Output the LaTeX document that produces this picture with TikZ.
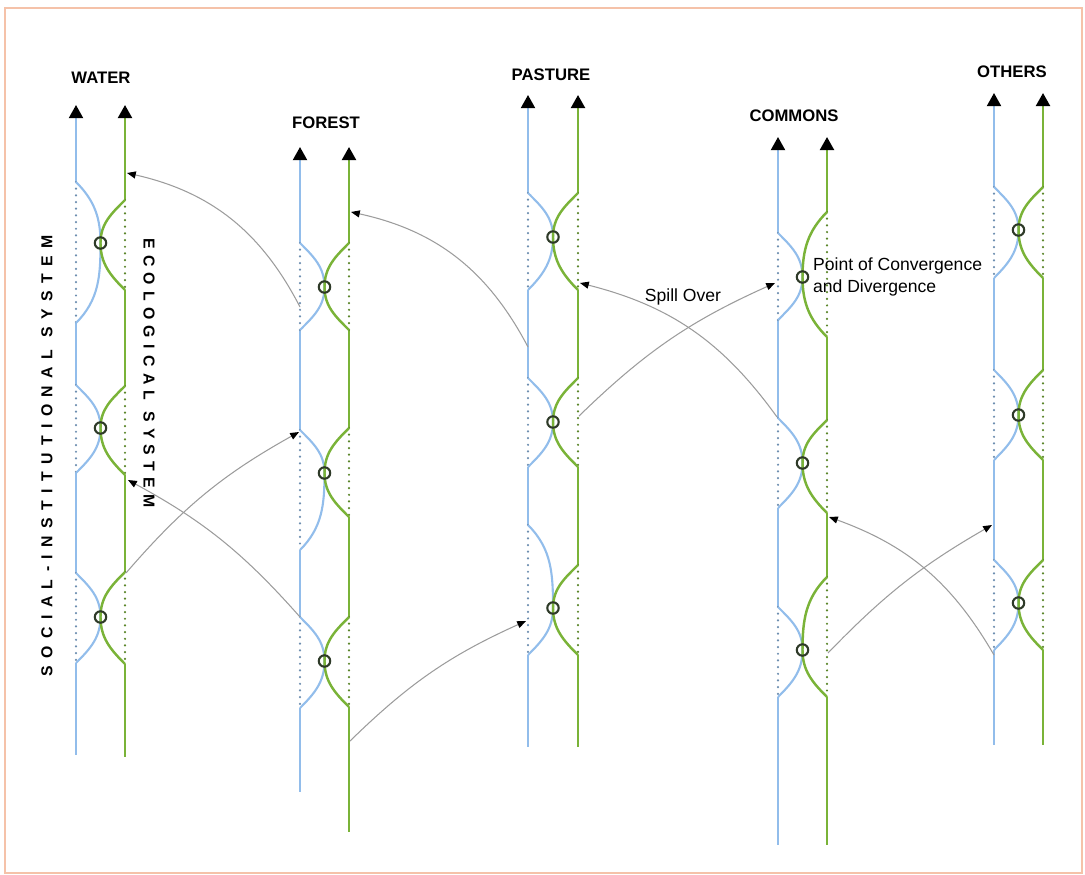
\documentclass[tikz,border=0pt]{standalone}
\usepackage{fontspec}
\setmainfont{Liberation Sans}
\usetikzlibrary{arrows.meta,positioning}
\definecolor{socblue}{HTML}{92BDEB}
\definecolor{ecogreen}{HTML}{7AB338}
\definecolor{arcgrey}{HTML}{9C9C9C}
\definecolor{framecol}{HTML}{F5C2A9}
\definecolor{ringcol}{HTML}{2E3A28}

% one meeting of the two systems: name, x blue, x green, blue top, blue bottom, green top, green bottom, y meet
\newcommand{\crossing}[8]{%
  \pgfmathsetmacro{\xm}{(#2+#3)/2}
  \draw[socdot] (#2,#4) -- (#2,#5);
  \draw[ecodot] (#3,#6) -- (#3,#7);
  \draw[soc] (#2,#4) to[out=-45,in=90] (\xm,#8) to[out=-90,in=45] (#2,#5);
  \draw[eco] (#3,#6) to[out=-135,in=90] (\xm,#8) to[out=-90,in=135] (#3,#7);
  \node[meet] (#1) at (\xm,#8) {};
}

\begin{document}
\begin{tikzpicture}[x=0.02cm, y=-0.02cm,
        soc/.style={draw=socblue, line width=1.2pt},
        eco/.style={draw=ecogreen, line width=1.4pt},
        socdot/.style={draw=socblue!75!black, line width=1.4pt, line cap=round, dash pattern=on 0pt off 3.8pt},
        ecodot/.style={draw=ecogreen!75!black, line width=1.4pt, line cap=round, dash pattern=on 0pt off 3.8pt},
        tipup/.style={-{Triangle[length=7.5pt,width=8pt,color=black]}},
        meet/.style={circle, draw=ringcol, line width=1.2pt, minimum size=6.5pt, inner sep=0pt},
        spill/.style={draw=arcgrey, line width=0.6pt, -{Triangle[length=5pt,width=4pt,color=black]}},
        title/.style={font=\bfseries\fontsize{9.5}{11}\selectfont},
        side/.style={font=\bfseries\fontsize{9}{11}\selectfont\addfontfeature{LetterSpace=#1}},
        note/.style={font=\fontsize{10}{12.5}\selectfont, align=left, inner sep=1pt}
    ]
    \useasboundingbox (0,0) rectangle (1085,875);
    \draw[draw=framecol, line width=1.2pt] (5,8) rectangle (1082,873);

    % Water
    \draw[soc,tipup] (76,182) -- (76,105);
    \draw[soc] (76,323) -- (76,385) (76,473) -- (76,573) (76,663) -- (76,755);
    \draw[eco,tipup] (125,200) -- (125,105);
    \draw[eco] (125,290) -- (125,386) (125,475) -- (125,572) (125,664) -- (125,757);
    \crossing{W1}{76}{125}{182}{323}{200}{290}{243}
    \crossing{W2}{76}{125}{385}{473}{386}{475}{428}
    \crossing{W3}{76}{125}{573}{663}{572}{664}{617}
    \node[title] (water) at (101,78) {WATER};

    % Forest
    \draw[soc,tipup] (300,243) -- (300,147);
    \draw[soc] (300,330) -- (300,430) (300,550) -- (300,617) (300,708) -- (300,792);
    \draw[eco,tipup] (349,243) -- (349,147);
    \draw[eco] (349,330) -- (349,428) (349,517) -- (349,617) (349,707) -- (349,832);
    \crossing{F1}{300}{349}{243}{330}{243}{330}{287}
    \crossing{F2}{300}{349}{430}{550}{428}{517}{473}
    \crossing{F3}{300}{349}{617}{708}{617}{707}{661}
    \node[title] (forest) at (326,123) {FOREST};

    % Pasture
    \draw[soc,tipup] (528,193) -- (528,95);
    \draw[soc] (528,290) -- (528,378) (528,467) -- (528,525) (528,655) -- (528,747);
    \draw[eco,tipup] (578,193) -- (578,95);
    \draw[eco] (578,290) -- (578,378) (578,467) -- (578,565) (578,655) -- (578,747);
    \crossing{P1}{528}{578}{193}{290}{193}{290}{237}
    \crossing{P2}{528}{578}{378}{467}{378}{467}{422}
    \crossing{P3}{528}{578}{525}{655}{565}{655}{608}
    \node[title] (pasture) at (551,75) {PASTURE};

    % Commons
    \draw[soc,tipup] (778,233) -- (778,137);
    \draw[soc] (778,320) -- (778,418) (778,508) -- (778,607) (778,697) -- (778,845);
    \draw[eco,tipup] (827,212) -- (827,137);
    \draw[eco] (827,337) -- (827,420) (827,513) -- (827,577) (827,697) -- (827,845);
    \crossing{C1}{778}{827}{233}{320}{212}{337}{277}
    \crossing{C2}{778}{827}{418}{508}{420}{513}{463}
    \crossing{C3}{778}{827}{607}{697}{577}{697}{650}
    \node[title] (commons) at (794,116) {COMMONS};

    % Others
    \draw[soc,tipup] (994,187) -- (994,93);
    \draw[soc] (994,278) -- (994,370) (994,460) -- (994,560) (994,650) -- (994,745);
    \draw[eco,tipup] (1043,187) -- (1043,93);
    \draw[eco] (1043,278) -- (1043,370) (1043,460) -- (1043,560) (1043,650) -- (1043,745);
    \crossing{O1}{994}{1043}{187}{278}{187}{278}{230}
    \crossing{O2}{994}{1043}{370}{460}{370}{460}{415}
    \crossing{O3}{994}{1043}{560}{650}{560}{650}{603}
    \node[title] (others) at (1012,72) {OTHERS};

    % System labels
    \node[side=47, rotate=90] (social) at (47,456) {SOCIAL-INSTITUTIONAL SYSTEM};
    \node[side=40, rotate=-90] (ecological) at (149,373) {ECOLOGICAL SYSTEM};

    % Ends of the spill-over arcs
    \coordinate (F-s1) at (300,307);
    \coordinate (W-t1) at (127,173);
    \coordinate (P-s1) at (528,347);
    \coordinate (F-t1) at (351,212);
    \coordinate (W-s2) at (126,573);
    \coordinate (F-t2) at (299,432);
    \coordinate (F-s2) at (300,617);
    \coordinate (W-t2) at (128,480);
    \coordinate (F-s3) at (350,741);
    \coordinate (P-t3) at (526,621);
    \coordinate (C-s1) at (777,417);
    \coordinate (P-t1) at (580,283);
    \coordinate (P-s2) at (579,416);
    \coordinate (C-t1) at (775,283);
    \coordinate (O-s2) at (994,655);
    \coordinate (C-t2) at (829,517);
    \coordinate (C-s2) at (828,653);
    \coordinate (O-t2) at (992,525);

    % Spill over
    \draw[spill] (F-s1) to[bend right=25] (W-t1);
    \draw[spill] (P-s1) to[bend right=25] (F-t1);
    \draw[spill] (W-s2) to[bend left=10] (F-t2);
    \draw[spill] (F-s2) to[bend right=10] (W-t2);
    \draw[spill] (F-s3) to[bend left=10] (P-t3);
    \draw[spill] (C-s1) to[bend right=20] (P-t1);
    \draw[spill] (P-s2) to[bend left=10] (C-t1);
    \draw[spill] (O-s2) to[bend right=20] (C-t2);
    \draw[spill] (C-s2) to[bend left=8] (O-t2);

    \node[note] (spillover) at (683,297) {Spill Over};
    \node[note, right=1pt of C1] (point) {Point of Convergence\\and Divergence};
\end{tikzpicture}
\end{document}
